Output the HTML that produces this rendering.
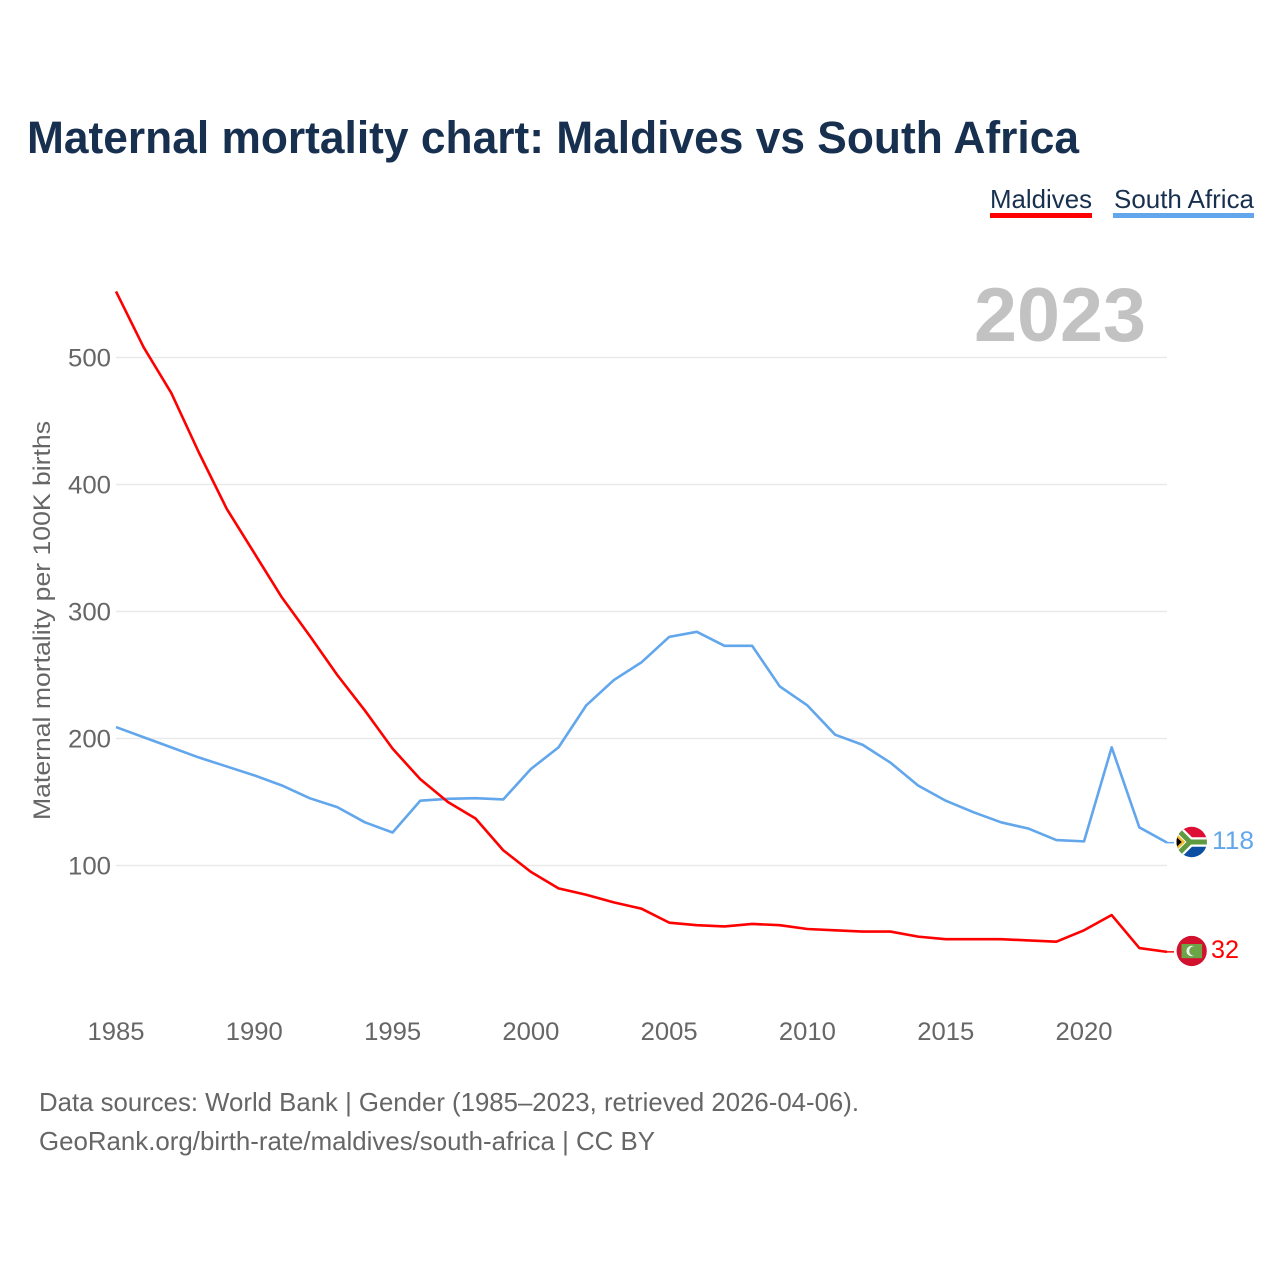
<!DOCTYPE html>
<html lang="en">
<head>
<meta charset="utf-8">
<title>Maternal mortality chart: Maldives vs South Africa</title>
<style>
html,body{margin:0;padding:0;background:#fff;width:1280px;height:1280px;overflow:hidden}
svg{display:block}
text{font-family:"Liberation Sans",sans-serif}
</style>
</head>
<body>
<svg id="chart" xmlns="http://www.w3.org/2000/svg" width="1280" height="1280" viewBox="0 0 1280 1280">
  <rect width="1280" height="1280" fill="#fff"/>
  <text x="27" y="153" font-size="45" font-weight="700" fill="#18304f" textLength="1052" lengthAdjust="spacingAndGlyphs">Maternal mortality chart: Maldives vs South Africa</text>

  <g>
    <text x="990" y="208" font-size="26" fill="#18304f" textLength="102" lengthAdjust="spacingAndGlyphs">Maldives</text>
    <rect x="990" y="213" width="102" height="5" fill="#ff0000"/>
  </g>
  <g>
    <text x="1114" y="208" font-size="26" fill="#18304f" textLength="140" lengthAdjust="spacingAndGlyphs">South Africa</text>
    <rect x="1113" y="213" width="141" height="5" fill="#62a6ec"/>
  </g>

  <text x="1146" y="341" text-anchor="end" font-size="76" font-weight="700" fill="#c2c2c2" textLength="172" lengthAdjust="spacingAndGlyphs">2023</text>

  <g id="grid"></g>
  <g id="y-ticks"></g>
  <g id="x-ticks"></g>

  <text transform="translate(50,820) rotate(-90)" font-size="24" fill="#666666" textLength="399" lengthAdjust="spacingAndGlyphs">Maternal mortality per 100K births</text>

  <g id="series"></g>

  <defs>
    <clipPath id="flag-clip-za"><circle cx="1191.7" cy="842" r="15.2"/></clipPath>
    <clipPath id="flag-clip-mv"><circle cx="1191.7" cy="951" r="15.2"/></clipPath>
  </defs>

  <g id="flag-za"></g>
  <g id="flag-mv"></g>

  <text id="value-za" x="1212" y="849" font-size="25" fill="#62a6ec" textLength="42" lengthAdjust="spacingAndGlyphs"></text>
  <text id="value-mv" x="1211" y="958" font-size="25" fill="#ff0000" textLength="28" lengthAdjust="spacingAndGlyphs"></text>

  <text x="39" y="1111" font-size="26" fill="#666666" textLength="820" lengthAdjust="spacingAndGlyphs">Data sources: World Bank | Gender (1985–2023, retrieved 2026-04-06).</text>
  <text x="39" y="1150" font-size="26" fill="#666666" textLength="616" lengthAdjust="spacingAndGlyphs">GeoRank.org/birth-rate/maldives/south-africa | CC BY</text>
</svg>
<script>
const years = [1985,1986,1987,1988,1989,1990,1991,1992,1993,1994,1995,1996,1997,1998,1999,2000,2001,2002,2003,2004,2005,2006,2007,2008,2009,2010,2011,2012,2013,2014,2015,2016,2017,2018,2019,2020,2021,2022,2023];
const maldivesValues = [552,508,472,425,381,346,311,281,250,222,192,168,150,137,112,95,82,77,71,66,55,53,52,54,53,50,49,48,48,44,42,42,42,41,40,49,61,35,32];
const southAfricaValues = [209,201,193,185,178,171,163,153,146,134,126,151,152.5,153,152,176,193,226,246,260,280,284,273,273,241,226,203,195,181,163,151,142,134,129,120,119,193,130,118];
const yTickValues = [100,200,300,400,500];
const xTickYears = [1985,1990,1995,2000,2005,2010,2015,2020];

const NS = 'http://www.w3.org/2000/svg';
const xScale = function (year) { return 116 + (year - 1985) * 27.658; };
const yScale = function (value) { return 992.5 - value * 1.27; };

function make(tag, parent, attrs) {
  const el = document.createElementNS(NS, tag);
  for (const k in attrs) el.setAttribute(k, attrs[k]);
  parent.appendChild(el);
  return el;
}

const grid = document.getElementById('grid');
const yTicks = document.getElementById('y-ticks');
yTickValues.forEach(function (v) {
  const line = make('line', grid, {x1: 116, x2: 1167, y1: yScale(v), y2: yScale(v), stroke: '#e9e9e9', 'stroke-width': 1.6});
  
  
  const label = make('text', yTicks, {x: 111, y: yScale(v) + 9, 'text-anchor': 'end', 'font-size': 25, fill: '#666666', textLength: 43, lengthAdjust: 'spacingAndGlyphs'});
  
  
  label.textContent = v;
});

const xTicks = document.getElementById('x-ticks');
xTickYears.forEach(function (yr) {
  const label = make('text', xTicks, {x: xScale(yr), y: 1040, 'text-anchor': 'middle', 'font-size': 25, fill: '#666666', textLength: 57, lengthAdjust: 'spacingAndGlyphs'});
  
  
  label.textContent = yr;
});

function pathFor(values) {
  return values.map(function (v, i) {
    return (i ? 'L' : 'M') + xScale(years[i]).toFixed(2) + ' ' + yScale(v).toFixed(2);
  }).join(' ');
}

const series = document.getElementById('series');

const lineSouthAfrica = make('path', series, {d: pathFor(southAfricaValues), fill: 'none', stroke: '#62a6ec', 'stroke-width': 2.6, 'stroke-linejoin': 'round'});



const lineMaldives = make('path', series, {d: pathFor(maldivesValues), fill: 'none', stroke: '#ff0000', 'stroke-width': 2.6, 'stroke-linejoin': 'round'});



const lastIndex = years.length - 1;
const zaY = yScale(southAfricaValues[lastIndex]);
const mvY = yScale(maldivesValues[lastIndex]);

const stubSouthAfrica = make('line', series, {x1: xScale(2023), x2: 1174, y1: zaY, y2: zaY, stroke: '#62a6ec', 'stroke-width': 1.5});



const stubMaldives = make('line', series, {x1: xScale(2023), x2: 1174, y1: mvY, y2: mvY, stroke: '#ff0000', 'stroke-width': 1.5});



document.getElementById('value-za').textContent = southAfricaValues[lastIndex];
document.getElementById('value-mv').textContent = maldivesValues[lastIndex];

/* South Africa flag */
const za = document.getElementById('flag-za');
za.setAttribute('clip-path', 'url(#flag-clip-za)');
make('rect', za, {x: 1176, y: 826, width: 32, height: 16, fill: '#dd0f35'});
make('rect', za, {x: 1176, y: 842, width: 32, height: 16, fill: '#0b4ea2'});
make('path', za, {d: 'M1172 824 L1190 842 L1172 860 M1190 842 H1208', fill: 'none', stroke: '#ffffff', 'stroke-width': 9.5});
make('path', za, {d: 'M1172 824 L1190 842 L1172 860 M1190 842 H1208', fill: 'none', stroke: '#5f9a41', 'stroke-width': 5});
make('path', za, {d: 'M1172 831 L1183.5 842 L1172 853 Z', fill: '#000000', stroke: '#f2b92f', 'stroke-width': 2.4});

/* Maldives flag */
const mv = document.getElementById('flag-mv');
mv.setAttribute('clip-path', 'url(#flag-clip-mv)');
make('circle', mv, {cx: 1191.7, cy: 951, r: 15.2, fill: '#d2112f'});
make('rect', mv, {x: 1181.5, y: 944, width: 20.6, height: 14.2, fill: '#6ba548'});
make('circle', mv, {cx: 1191.6, cy: 951, r: 5.2, fill: '#f3f3ee'});
make('circle', mv, {cx: 1194, cy: 951, r: 4.8, fill: '#6ba548'});
</script>
</body>
</html>
